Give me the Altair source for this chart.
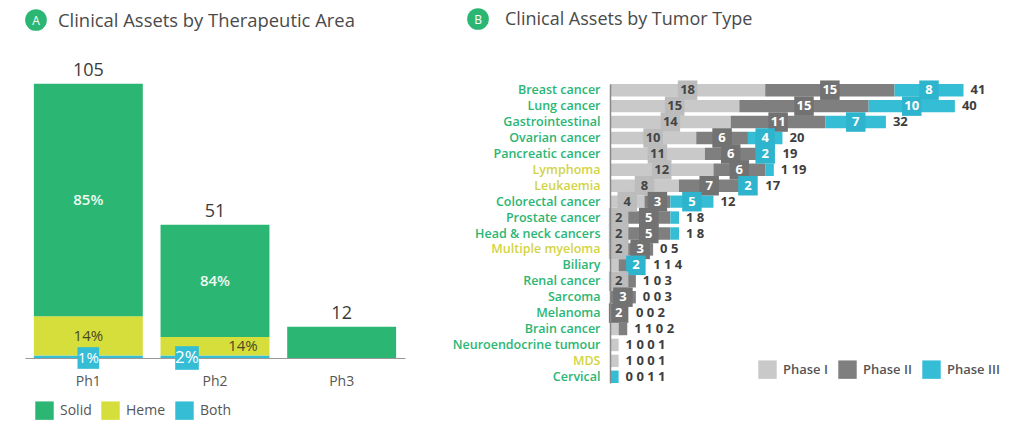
import json
import altair as alt
import pandas as pd

FONT = "Open Sans"

# ---------------- Panel A data ----------------
phases_a = ["Ph1", "Ph2", "Ph3"]
solid = [89, 43, 12]
heme = [15, 7, 0]
both = [1, 1, 0]
types_a = ["Solid", "Heme", "Both"]
colors_a = ["#2bb673", "#d5de3b", "#36bdd6"]

# ---------------- Panel B data ----------------
tumors = ["Breast cancer", "Lung cancer", "Gastrointestinal", "Ovarian cancer",
          "Pancreatic cancer", "Lymphoma", "Leukaemia", "Colorectal cancer",
          "Prostate cancer", "Head & neck cancers", "Multiple myeloma", "Biliary",
          "Renal cancer", "Sarcoma", "Melanoma", "Brain cancer",
          "Neuroendocrine tumour", "MDS", "Cervical"]
phase1 = [18, 15, 14, 10, 11, 12, 8, 4, 2, 2, 2, 1, 2, 0, 0, 1, 1, 1, 0]
phase2 = [15, 15, 11, 6, 6, 6, 7, 3, 5, 5, 3, 1, 1, 3, 2, 1, 0, 0, 0]
phase3 = [8, 10, 7, 4, 2, 1, 2, 5, 1, 1, 0, 2, 0, 0, 0, 0, 0, 0, 1]
heme_tumors = ["Lymphoma", "Leukaemia", "Multiple myeloma", "MDS"]
phase_names = ["Phase I", "Phase II", "Phase III"]
colors_b = ["#c9c9c9", "#7f7f7f", "#36bdd6"]
box_colors_b = ["#bcbcbc", "#727272", "#2fb4ce"]

# ---------------- build tables ----------------
rows = []
for i, ph in enumerate(phases_a):
    vals = {"Solid": solid[i], "Heme": heme[i], "Both": both[i]}
    total = sum(vals.values())
    base = 0
    for t in ["Both", "Heme", "Solid"]:
        v = vals[t]
        rows.append(dict(Phase=ph, Type=t, Count=v, y0=base, y1=base + v,
                         mid=base + v / 2, total=total,
                         pct=f"{round(100 * v / total)}%"))
        base += v
dfa = pd.DataFrame(rows)
dfa_tot = dfa.groupby("Phase", as_index=False)["total"].first()

rowsb = []
totb = []
for i, tm in enumerate(tumors):
    vals = [phase1[i], phase2[i], phase3[i]]
    base = 0
    box_end = 0
    for p, v in zip(phase_names, vals):
        rowsb.append(dict(Tumor=tm, Phase=p, Count=v, x0=base, x1=base + v,
                          mid=base + v / 2))
        if v >= 2:
            box_end = max(box_end, base + v / 2 + 1.2)
        base += v
    small = [str(v) for v in vals if v < 2]
    totb.append(dict(Tumor=tm, total=base, lx=max(base, box_end),
                     label="  ".join(small + [str(base)])))
dfb = pd.DataFrame(rowsb)
dfb_tot = pd.DataFrame(totb)

# ---------------- Panel A chart ----------------
xa = alt.X("Phase:N", sort=phases_a,
           scale=alt.Scale(paddingInner=0.14, paddingOuter=0.07),
           axis=alt.Axis(title=None, labelAngle=0, ticks=False, labelPadding=16,
                         labelFontSize=14, labelColor="#555555",
                         domainColor="#999999", domainWidth=1.2))
ya_scale = alt.Scale(domain=[0, 134])

base_a = alt.Chart(dfa)
bars_a = base_a.transform_filter("datum.Count > 0").mark_bar().encode(
    x=xa,
    y=alt.Y("y0:Q", scale=ya_scale, axis=None),
    y2="y1:Q",
    color=alt.Color("Type:N", scale=alt.Scale(domain=types_a, range=colors_a),
                    legend=alt.Legend(title=None, orient="none", legendX=10, legendY=393,
                                      direction="horizontal", symbolType="square",
                                      symbolSize=340, symbolStrokeWidth=0,
                                      labelFontSize=14, labelColor="#555555",
                                      columnPadding=9, labelOffset=6)),
)
tot_a = alt.Chart(dfa_tot).mark_text(baseline="bottom", dy=-4, fontSize=18,
                                      color="#3a3a3a").encode(
    x=alt.X("Phase:N", sort=phases_a), y=alt.Y("total:Q", scale=ya_scale),
    text="total:Q")
solid_lbl = base_a.transform_filter("datum.Type == 'Solid' && datum.Count < datum.total").mark_text(
    fontSize=15, color="#eefaf2", fontWeight=600).encode(
    x=alt.X("Phase:N", sort=phases_a), y=alt.Y("mid:Q", scale=ya_scale), text="pct:N")
heme_lbl1 = base_a.transform_filter("datum.Type == 'Heme' && datum.Count > 0 && datum.Phase == 'Ph1'").mark_text(
    fontSize=15, color="#4a4a22").encode(
    x=alt.X("Phase:N", sort=phases_a), y=alt.Y("mid:Q", scale=ya_scale), text="pct:N")
heme_lbl2 = base_a.transform_filter("datum.Type == 'Heme' && datum.Count > 0 && datum.Phase == 'Ph2'").mark_text(
    fontSize=15, color="#4a4a22", dx=28).encode(
    x=alt.X("Phase:N", sort=phases_a), y=alt.Y("mid:Q", scale=ya_scale), text="pct:N")
both_box1 = base_a.transform_filter("datum.Type == 'Both' && datum.Count > 0 && datum.Phase == 'Ph1'").mark_square(
    size=470, color="#36bdd6", opacity=1).encode(
    x=alt.X("Phase:N", sort=phases_a), y=alt.Y("y0:Q", scale=ya_scale))
both_box2 = base_a.transform_filter("datum.Type == 'Both' && datum.Count > 0 && datum.Phase == 'Ph2'").mark_square(
    size=560, color="#36bdd6", opacity=1, xOffset=-28).encode(
    x=alt.X("Phase:N", sort=phases_a), y=alt.Y("y0:Q", scale=ya_scale))
both_lbl1 = base_a.transform_filter("datum.Type == 'Both' && datum.Count > 0 && datum.Phase == 'Ph1'").mark_text(
    fontSize=15, color="white").encode(
    x=alt.X("Phase:N", sort=phases_a), y=alt.Y("y0:Q", scale=ya_scale), text="pct:N")
both_lbl2 = base_a.transform_filter("datum.Type == 'Both' && datum.Count > 0 && datum.Phase == 'Ph2'").mark_text(
    fontSize=17, color="white", dx=-28).encode(
    x=alt.X("Phase:N", sort=phases_a), y=alt.Y("y0:Q", scale=ya_scale), text="pct:N")

one = alt.Data(values=[{}])
badge_a = alt.Chart(one).mark_circle(size=470, color="#2bb673", opacity=1).encode(
    x=alt.value(11), y=alt.value(12))
badge_a_t = alt.Chart(one).mark_text(text="A", color="white", fontSize=12).encode(
    x=alt.value(11), y=alt.value(12.5))
title_a = alt.Chart(one).mark_text(text="Clinical Assets by Therapeutic Area", align="left",
                                    baseline="middle", fontSize=18.4, color="#4a4a4a").encode(
    x=alt.value(33), y=alt.value(13))

left = alt.layer(bars_a, tot_a, solid_lbl, heme_lbl1, heme_lbl2, both_box1, both_box2,
                 both_lbl1, both_lbl2, badge_a, badge_a_t, title_a).properties(width=380, height=350)

# ---------------- Panel B chart ----------------
label_color_expr = ("indexof(" + json.dumps(heme_tumors) +
                    ", datum.value) >= 0 ? '#d2d445' : '#2bb673'")
yb = alt.Y("Tumor:N", sort=tumors,
           scale=alt.Scale(domain=tumors, range=[76, 375], paddingInner=0.22, paddingOuter=0),
           axis=alt.Axis(title=None, ticks=False, labelPadding=10, labelFontSize=12.5,
                         labelFontWeight=600, labelColor=alt.ExprRef(label_color_expr),
                         domainColor="#888888", domainWidth=1.5, labelFont=FONT, zindex=1))
xb_scale = alt.Scale(domain=[0, 45])

base_b = alt.Chart(dfb)
bars_b = base_b.transform_filter("datum.Count > 0").mark_bar().encode(
    y=yb,
    x=alt.X("x0:Q", scale=xb_scale, axis=None),
    x2="x1:Q",
    color=alt.Color("Phase:N", scale=alt.Scale(domain=phase_names, range=colors_b),
                    legend=alt.Legend(title=None, orient="none", legendX=148, legendY=352,
                                      direction="horizontal", symbolType="square",
                                      symbolSize=340, symbolStrokeWidth=0,
                                      labelFontSize=13, labelColor="#555555",
                                      labelFontWeight=600,
                                      columnPadding=10, labelOffset=6)),
)
boxes_b = base_b.transform_filter("datum.Count >= 2").mark_square(size=380, opacity=1).encode(
    y=alt.Y("Tumor:N", sort=tumors),
    x=alt.X("mid:Q", scale=xb_scale),
    fill=alt.Fill("Phase:N", scale=alt.Scale(domain=phase_names, range=box_colors_b), legend=None),
)
box_lbl = base_b.transform_filter("datum.Count >= 2").mark_text(fontSize=13, fontWeight="bold").encode(
    y=alt.Y("Tumor:N", sort=tumors),
    x=alt.X("mid:Q", scale=xb_scale),
    text="Count:Q",
    color=alt.condition("datum.Phase == 'Phase I'", alt.value("#444444"), alt.value("white")),
)
tot_b = alt.Chart(dfb_tot).mark_text(align="left", dx=7, fontSize=13, fontWeight="bold",
                                      color="#3d3d3d").encode(
    y=alt.Y("Tumor:N", sort=tumors), x=alt.X("lx:Q", scale=xb_scale), text="label:N")

badge_b = alt.Chart(one).mark_circle(size=470, color="#2bb673", opacity=1).encode(
    x=alt.value(-132), y=alt.value(11))
badge_b_t = alt.Chart(one).mark_text(text="B", color="white", fontSize=12).encode(
    x=alt.value(-132), y=alt.value(11.5))
title_b = alt.Chart(one).mark_text(text="Clinical Assets by Tumor Type", align="left",
                                    baseline="middle", fontSize=18, color="#4a4a4a").encode(
    x=alt.value(-105), y=alt.value(12))

right = alt.layer(bars_b, boxes_b, box_lbl, tot_b, badge_b, badge_b_t, title_b).properties(
    width=388, height=390)

chart = alt.hconcat(left, right, spacing=205, bounds="flush").resolve_scale(
    color="independent", fill="independent").properties(
    padding={"left": 17, "top": 0, "right": 0, "bottom": 0}).configure(
    font=FONT).configure_view(stroke=None)

chart.save("out.html", embed_options={"renderer": "svg", "actions": False})
